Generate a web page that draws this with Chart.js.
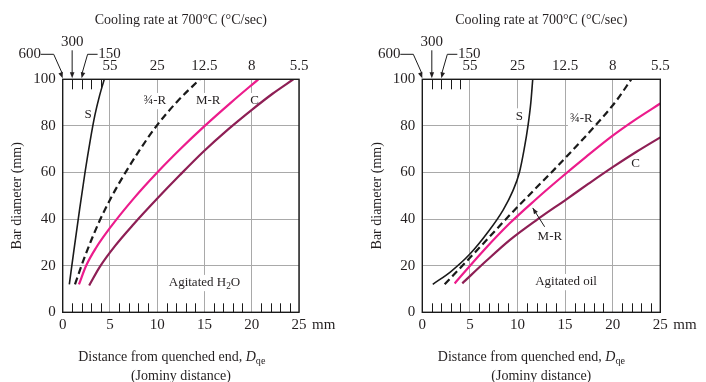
<!DOCTYPE html>
<html><head><meta charset="utf-8">
<script src="https://cdn.jsdelivr.net/npm/chart.js@4.4.0/dist/chart.umd.min.js"></script>
<style>
html,body{margin:0;padding:0;background:#fff;}
#wrap{position:relative;width:706px;height:382px;overflow:hidden;}
.c{position:absolute;top:0;width:353px;height:382px;}
</style></head><body>
<div id="wrap">
<div class="c" style="left:0"><canvas id="left"></canvas></div>
<div class="c" style="left:353px"><canvas id="right"></canvas></div>
</div>
<script>
// ---------- data ----------
const seriesNames = ['S', '¾-R', 'M-R', 'C'];
const bottomTicks = [0, 5, 10, 15, 20, 25];
const yTicks = [0, 20, 40, 60, 80, 100];
const topTickPositions = [5, 10, 15, 20, 25];
const topTickLabels = ['55', '25', '12.5', '8', '5.5'];
const arrowPositions = [0, 1, 2];
const arrowLabels = ['600', '300', '150'];
const topMinorTicks = [1, 2, 3, 4];
const bottomMinorTicks = [1,2,3,4,6,7,8,9,11,12,13,14,16,17,18,19,21,22,23,24];

// Agitated water
const waterS_x  = [0.7, 1.2, 1.8, 2.36, 2.9, 3.4, 3.9, 4.4];
const waterS_y  = [12, 27, 44.5, 60, 73.5, 84.5, 93, 100];
const waterQR_x = [1.3, 2.2, 3.0, 3.94, 5.2, 6.58, 8.2, 9.93, 12.1, 14.5];
const waterQR_y = [12, 22.4, 30.7, 39.6, 49.8, 59.6, 70.0, 80, 90.4, 100];
const waterMR_x = [1.72, 2.5, 3.5, 5.0, 7.5, 10, 12.5, 15, 17.8, 20.7];
const waterMR_y = [12, 20.2, 27.5, 36.2, 48.8, 60, 70.3, 79.9, 90.0, 100];
const waterC_x  = [2.8, 3.94, 5.5, 7.5, 9.93, 12.4, 14.9, 17.5, 20.04, 22.2, 24.4];
const waterC_y  = [11.5, 19.6, 28.3, 37.8, 48.5, 58.9, 69.0, 78.5, 87.0, 93.8, 100];

// Agitated oil
const oilS_x  = [1.1, 3.0, 5.0, 7.0, 8.5, 9.5, 10.2, 10.7, 11.1, 11.4, 11.6];
const oilS_y  = [12, 17.5, 25, 35, 44, 52, 60, 70, 80, 90, 100];
const oilQR_x = [2.35, 5.0, 7.0, 9.2, 11.6, 14.1, 16.4, 18.6, 20.4, 21.95];
const oilQR_y = [12, 23.4, 32.1, 41.8, 51.9, 62.3, 72.2, 82.1, 90.9, 100];
const oilMR_x = [3.4, 6.3, 9.18, 11.8, 14.4, 17.2, 20.0, 22.5, 25];
const oilMR_y = [12.4, 25.9, 38.2, 48.0, 57.2, 66.7, 75.8, 83.0, 89.6];
const oilC_x  = [4.2, 6.7, 9.18, 12.1, 15.1, 17.5, 20.0, 22.5, 25];
const oilC_y  = [12.4, 22.0, 31.0, 39.9, 48.4, 55.3, 62.3, 68.9, 75.1];

// ---------- styling ----------
const FAM = '"Liberation Serif", "Times New Roman", serif';
const TXT = '#231f20';
const GRID = '#a9a9a9';
const lineStyles = [
  {color: '#1a1a1a', width: 1.6, dash: []},
  {color: '#1a1a1a', width: 2.2, dash: [7, 4]},
  {color: '#ec1c8c', width: 2.2, dash: []},
  {color: '#8e1f55', width: 2.2, dash: []}
];

function pts(xs, ys) { return xs.map((x, i) => ({x: x, y: ys[i]})); }

function drawRich(ctx, segs, cx, cy, size, bg, alignLeft) {
  let w = 0;
  const parts = segs.map(s => {
    const sz = s.sub ? size * 0.72 : size;
    const f = (s.italic ? 'italic ' : '') + sz + 'px ' + FAM;
    ctx.font = f;
    const mw = ctx.measureText(s.t).width;
    w += mw;
    return {s: s, f: f, mw: mw};
  });
  let x = alignLeft ? cx : cx - w / 2;
  if (bg) {
    ctx.fillStyle = '#fff';
    ctx.fillRect(x - 2, cy - size * 0.6, w + 4, size * 1.25);
  }
  ctx.fillStyle = TXT;
  ctx.textBaseline = 'middle';
  ctx.textAlign = 'left';
  parts.forEach(p => {
    ctx.font = p.f;
    ctx.fillText(p.s.t, x, cy + (p.s.sub ? size * 0.32 : 0));
    x += p.mw;
  });
}

function arrowHead(ctx, x0, y0, x1, y1) {
  const ang = Math.atan2(y1 - y0, x1 - x0);
  const L = 6, W = 2.3;
  ctx.beginPath();
  ctx.moveTo(x1, y1);
  ctx.lineTo(x1 - L * Math.cos(ang) + W * Math.sin(ang), y1 - L * Math.sin(ang) - W * Math.cos(ang));
  ctx.lineTo(x1 - L * Math.cos(ang) - W * Math.sin(ang), y1 - L * Math.sin(ang) + W * Math.cos(ang));
  ctx.closePath();
  ctx.fill();
}

const decor = {
  id: 'decor',
  beforeDatasetsDraw(chart, args, o) {
    const ctx = chart.ctx;
    const sx = chart.scales.x, sy = chart.scales.y;
    ctx.save();
    o.labels.forEach(l => {
      drawRich(ctx, l.segs, sx.getPixelForValue(l.x), sy.getPixelForValue(l.y), 13, true);
    });
    ctx.restore();
  },
  afterDatasetsDraw(chart, args, o) {
    const ctx = chart.ctx, a = chart.chartArea;
    const sx = chart.scales.x, sy = chart.scales.y;
    ctx.save();
    ctx.strokeStyle = '#1a1a1a';
    ctx.fillStyle = '#1a1a1a';
    ctx.lineWidth = 1;
    topMinorTicks.forEach(v => {
      const x = Math.round(sx.getPixelForValue(v)) + 0.5;
      ctx.beginPath(); ctx.moveTo(x, a.top); ctx.lineTo(x, a.top + 10); ctx.stroke();
    });
    bottomMinorTicks.forEach(v => {
      const x = Math.round(sx.getPixelForValue(v)) + 0.5;
      ctx.beginPath(); ctx.moveTo(x, a.bottom); ctx.lineTo(x, a.bottom - 9); ctx.stroke();
    });
    ctx.lineWidth = 1.4;
    ctx.strokeRect(a.left, a.top, a.right - a.left, a.bottom - a.top);

    ctx.lineWidth = 1;
    const T = a.top;
    const xs = arrowPositions.map(v => sx.getPixelForValue(v));
    ctx.font = '15px ' + FAM;
    ctx.textAlign = 'center'; ctx.textBaseline = 'middle';
    ctx.fillStyle = TXT;
    ctx.fillText(arrowLabels[0], xs[0] - 33, T - 25);
    ctx.beginPath(); ctx.moveTo(xs[0] - 22, T - 25); ctx.lineTo(xs[0] - 9, T - 25); ctx.lineTo(xs[0] - 0.5, T - 6); ctx.stroke();
    arrowHead(ctx, xs[0] - 9, T - 25, xs[0], T - 1);
    ctx.fillText(arrowLabels[1], xs[1], T - 37);
    ctx.beginPath(); ctx.moveTo(xs[1], T - 29); ctx.lineTo(xs[1], T - 5); ctx.stroke();
    arrowHead(ctx, xs[1], T - 29, xs[1], T - 1);
    ctx.fillText(arrowLabels[2], xs[2] + 28, T - 25);
    ctx.beginPath(); ctx.moveTo(xs[2] + 16, T - 25); ctx.lineTo(xs[2] + 6, T - 25); ctx.lineTo(xs[2] + 0.5, T - 6); ctx.stroke();
    arrowHead(ctx, xs[2] + 6, T - 25, xs[2], T - 1);

    ctx.textAlign = 'left';
    ctx.fillText('mm', sx.getPixelForValue(25) + 13, a.bottom + 13);

    drawRich(ctx, [{t: 'Distance from quenched end, '}, {t: 'D', italic: true}, {t: 'qe', sub: true}],
      a.left + 15.5, 357, 14, false, true);
    drawRich(ctx, [{t: '(Jominy distance)'}], (a.left + a.right) / 2, 376, 14, false);

    if (o.pointer) {
      const p = o.pointer;
      const x0 = sx.getPixelForValue(p.x0), y0 = sy.getPixelForValue(p.y0);
      const x1 = sx.getPixelForValue(p.x1), y1 = sy.getPixelForValue(p.y1);
      ctx.beginPath(); ctx.moveTo(x0, y0); ctx.lineTo(x1, y1); ctx.stroke();
      arrowHead(ctx, x0, y0, x1, y1);
    }
    ctx.restore();
  }
};

function makeChart(id, series, spec) {
  const PLOT_TOP = 79.3, PLOT_BOTTOM = 312.3, H = 382, W = 353;
  const datasets = series.map((s, i) => ({
    label: seriesNames[i],
    data: pts(s[0], s[1]),
    showLine: true,
    borderColor: lineStyles[i].color,
    borderWidth: lineStyles[i].width,
    borderDash: lineStyles[i].dash,
    pointRadius: 0,
    fill: false,
    tension: 0.4,
    cubicInterpolationMode: 'monotone'
  }));
  return new Chart(document.getElementById(id), {
    type: 'scatter',
    data: {datasets: datasets},
    options: {
      responsive: true,
      maintainAspectRatio: false,
      animation: false,
      layout: {padding: {left: 0, right: W - spec.plotRight, top: 0, bottom: 0}},
      plugins: {
        legend: {display: false},
        tooltip: {enabled: false},
        decor: {labels: spec.labels, pointer: spec.pointer}
      },
      scales: {
        x: {
          type: 'linear', position: 'bottom', min: 0, max: 25,
          afterBuildTicks: s => { s.ticks = bottomTicks.map(v => ({value: v})); },
          ticks: {font: {family: FAM, size: 15}, color: TXT, padding: 4, maxRotation: 0, autoSkip: false},
          grid: {color: GRID, lineWidth: 1, drawTicks: false},
          border: {display: false},
          afterFit: s => { s.height = H - PLOT_BOTTOM; }
        },
        xTop: {
          type: 'linear', position: 'top', min: 0, max: 25,
          afterBuildTicks: s => { s.ticks = topTickPositions.map(v => ({value: v})); },
          ticks: {font: {family: FAM, size: 15}, color: TXT, padding: 4, maxRotation: 0, autoSkip: false,
                  callback: (v, i) => topTickLabels[i]},
          grid: {display: false, drawTicks: false},
          border: {display: false},
          title: {display: true, text: 'Cooling rate at 700°C (°C/sec)', color: TXT,
                  font: {family: FAM, size: 14, lineHeight: 1.2}, padding: {top: 11.6, bottom: 0}},
          afterFit: s => { s.height = PLOT_TOP; }
        },
        y: {
          type: 'linear', position: 'left', min: 0, max: 100,
          afterBuildTicks: s => { s.ticks = yTicks.map(v => ({value: v})); },
          ticks: {font: {family: FAM, size: 15}, color: TXT, padding: 7},
          grid: {color: GRID, lineWidth: 1, drawTicks: false},
          border: {display: false},
          title: {display: true, text: 'Bar diameter (mm)', color: TXT,
                  font: {family: FAM, size: 14, lineHeight: 1.2},
                  padding: {top: spec.plotLeft - 45 - 8.4, bottom: 0}},
          afterFit: s => { s.width = spec.plotLeft; }
        }
      }
    },
    plugins: [decor]
  });
}

makeChart('left',
  [[waterS_x, waterS_y], [waterQR_x, waterQR_y], [waterMR_x, waterMR_y], [waterC_x, waterC_y]],
  {
    plotLeft: 62.7, plotRight: 299,
    labels: [
      {segs: [{t: 'S'}], x: 2.7, y: 84.7},
      {segs: [{t: '¾-R'}], x: 9.75, y: 90.8},
      {segs: [{t: 'M-R'}], x: 15.4, y: 90.8},
      {segs: [{t: 'C'}], x: 20.3, y: 90.8},
      {segs: [{t: 'Agitated H'}, {t: '2', sub: true}, {t: 'O'}], x: 15.0, y: 12.7}
    ]
  });

makeChart('right',
  [[oilS_x, oilS_y], [oilQR_x, oilQR_y], [oilMR_x, oilMR_y], [oilC_x, oilC_y]],
  {
    plotLeft: 69.3, plotRight: 307.3,
    labels: [
      {segs: [{t: 'S'}], x: 10.2, y: 84.2},
      {segs: [{t: '¾-R'}], x: 16.7, y: 83.2},
      {segs: [{t: 'C'}], x: 22.4, y: 63.9},
      {segs: [{t: 'M-R'}], x: 13.4, y: 32.5},
      {segs: [{t: 'Agitated oil'}], x: 15.1, y: 13.1}
    ],
    pointer: {x0: 12.85, y0: 36.7, x1: 11.6, y1: 44.8}
  });
</script>
</body></html>
